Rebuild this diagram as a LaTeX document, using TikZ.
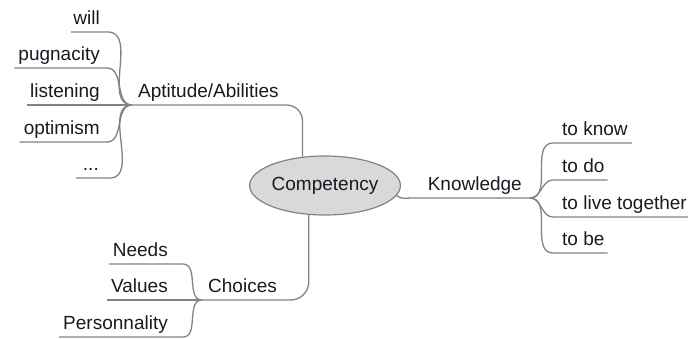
\documentclass[tikz,border=0pt]{standalone}
\usepackage{fontspec}
\setmainfont{Liberation Sans}
\usetikzlibrary{shapes.geometric}
\definecolor{mapgray}{RGB}{130,130,130}
\definecolor{hubgray}{RGB}{217,217,217}
\definecolor{mapink}{RGB}{25,25,35}

\begin{document}
\begin{tikzpicture}[x=1pt, y=-1pt,
    branch/.style={draw=mapgray, line width=1.3pt},
    label/.style={font=\fontsize{19}{22}\selectfont, text=mapink, inner sep=0pt},
    hub/.style={ellipse, draw=mapgray, fill=hubgray, line width=1.2pt,
        minimum width=130pt, minimum height=59pt, inner sep=0pt,
        font=\fontsize{19}{22}\selectfont, text=mapink}]
    \useasboundingbox (0,0) rectangle (688,338);

    % Centre
    \node[hub] (comp) at (325,185.5) {Competency};

    % Aptitude/Abilities
    \coordinate (jA) at (132,105);
    \node[label, anchor=base west] (apt) at (138,97.5) {Aptitude/Abilities};
    \draw[branch, rounded corners=16pt] (comp.128) |- (jA);
    \node[label, anchor=base east] (will) at (100,24.5) {will};
    \node[label, anchor=base east] (pugn) at (100,60.5) {pugnacity};
    \node[label, anchor=base east] (list) at (100,97.5) {listening};
    \node[label, anchor=base east] (optim) at (100,134.5) {optimism};
    \node[label, anchor=base east] (etc) at (99,170.5) {...};
    \draw[branch] ([shift={(-2pt,-7.5pt)}]will.base west) -- ([shift={(8pt,-7.5pt)}]will.base east) to[out=0,in=180] (jA);
    \draw[branch] ([shift={(-4pt,-7.5pt)}]pugn.base west) -- ([shift={(7pt,-7.5pt)}]pugn.base east) to[out=0,in=180] (jA);
    \draw[branch] ([shift={(-3pt,-7.5pt)}]list.base west) -- (jA);
    \draw[branch] ([shift={(-4pt,-7.5pt)}]optim.base west) -- ([shift={(7pt,-7.5pt)}]optim.base east) to[out=0,in=180] (jA);
    \draw[branch] ([shift={(-7pt,-7.5pt)}]etc.base west) -- ([shift={(11pt,-7.5pt)}]etc.base east) to[out=0,in=180] (jA);

    % Knowledge
    \coordinate (jK) at (530,198);
    \node[label, anchor=base east] (know) at (522,190.5) {Knowledge};
    \draw[branch] (comp.-8) to[out=-40,in=180] (412,198) -- (jK);
    \node[label, anchor=base west] (tknow) at (562,135.5) {to know};
    \node[label, anchor=base west] (tdo) at (562,172.5) {to do};
    \node[label, anchor=base west] (tlive) at (562,209.5) {to live together};
    \node[label, anchor=base west] (tbe) at (562,245.5) {to be};
    \draw[branch] (jK) to[out=0,in=180] ([shift={(-9pt,-7.5pt)}]tknow.base west) -- ([shift={(4pt,-7.5pt)}]tknow.base east);
    \draw[branch] (jK) to[out=0,in=180] ([shift={(-9pt,-7.5pt)}]tdo.base west) -- ([shift={(3pt,-7.5pt)}]tdo.base east);
    \draw[branch] (jK) to[out=0,in=180] ([shift={(-9pt,-7.5pt)}]tlive.base west) -- ([shift={(2pt,-7.5pt)}]tlive.base east);
    \draw[branch] (jK) to[out=0,in=180] ([shift={(-9pt,-7.5pt)}]tbe.base west) -- ([shift={(3pt,-7.5pt)}]tbe.base east);

    % Choices
    \coordinate (jC) at (202,300);
    \node[label, anchor=base west] (choi) at (208,292.5) {Choices};
    \draw[branch, rounded corners=18pt] (comp.241) |- (jC);
    \node[label, anchor=base east] (need) at (168,256.5) {Needs};
    \node[label, anchor=base east] (valu) at (168,292.5) {Values};
    \node[label, anchor=base east] (pers) at (168,329.5) {Personnality};
    \draw[branch] ([shift={(-4pt,-7.5pt)}]need.base west) -- ([shift={(15pt,-7.5pt)}]need.base east) to[out=0,in=180] (jC);
    \draw[branch] ([shift={(-4pt,-7.5pt)}]valu.base west) -- (jC);
    \draw[branch] ([shift={(-4pt,-7.5pt)}]pers.base west) -- ([shift={(15pt,-7.5pt)}]pers.base east) to[out=0,in=180] (jC);
\end{tikzpicture}
\end{document}
